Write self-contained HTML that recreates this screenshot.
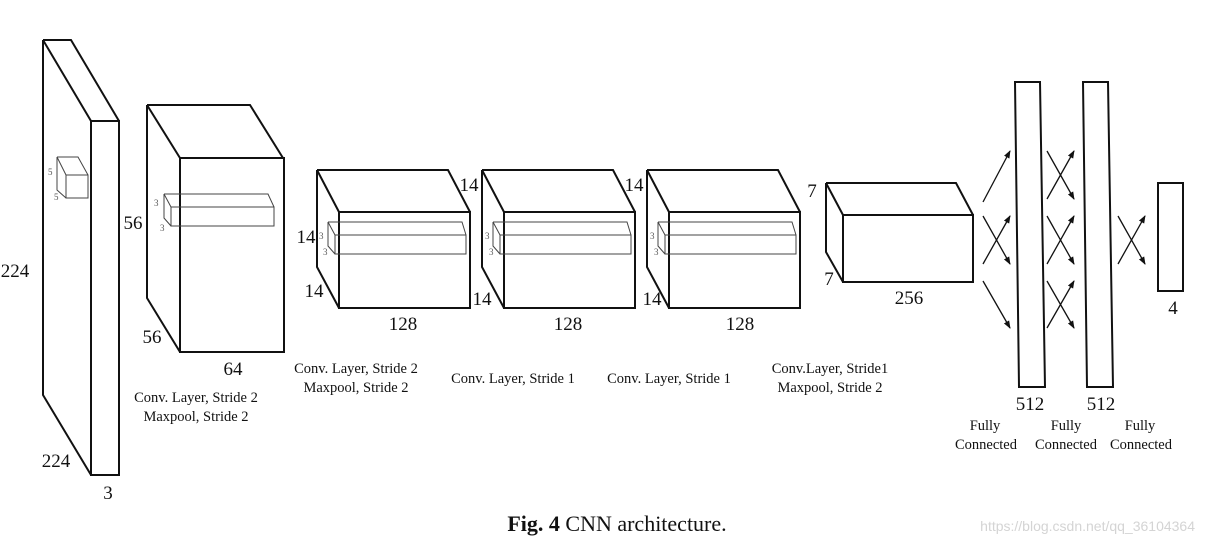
<!DOCTYPE html>
<html><head><meta charset="utf-8"><style>
html,body{margin:0;padding:0;background:#fff;}
svg{display:block;}
text{font-family:"Liberation Serif",serif;fill:#111;}
</style></head><body>
<svg width="1205" height="545" viewBox="0 0 1205 545" xmlns="http://www.w3.org/2000/svg">
<defs><marker id="ah" markerWidth="8" markerHeight="8" refX="7" refY="4" orient="auto" markerUnits="userSpaceOnUse"><path d="M0,1 L8,4 L0,7 Z" fill="#111"/></marker></defs>
<g fill="none" stroke="#111" stroke-width="2">
<path d="M43,40 L71,40 L119,121 M43,40 L91,121 M43,40 L43,395 L91,475"/>
<rect x="91" y="121" width="28" height="354"/>
<path d="M147,105 L250,105 L283,158 M147,105 L180,158 M147,105 L147,298 L180,352"/>
<rect x="180" y="158" width="104" height="194"/>
<path d="M317,170 L448,170 L470,212 M317,170 L339,212 M317,170 L317,267 L339,308"/>
<rect x="339" y="212" width="131" height="96"/>
<path d="M482,170 L613,170 L635,212 M482,170 L504,212 M482,170 L482,267 L504,308"/>
<rect x="504" y="212" width="131" height="96"/>
<path d="M647,170 L778,170 L800,212 M647,170 L669,212 M647,170 L647,267 L669,308"/>
<rect x="669" y="212" width="131" height="96"/>
<path d="M826,183 L956,183 L973,215 M826,183 L843,215 M826,183 L826,252 L843,282"/>
<rect x="843" y="215" width="130" height="67"/>
<path d="M1015,82 L1040,82 L1045,387 L1019,387 Z"/>
<path d="M1083,82 L1108,82 L1113,387 L1087,387 Z"/>
<rect x="1158" y="183" width="25" height="108"/>
</g>
<g fill="none" stroke="#444" stroke-width="1">
<path d="M57,157 L78,157 L88,175 M57,157 L66,175 M57,157 L57,190 L66,198"/>
<rect x="66" y="175" width="22" height="23"/>
<path d="M164,194 L268,194 L274,207 M164,194 L171,207 M164,194 L164,218 L171,226"/>
<rect x="171" y="207" width="103" height="19"/>
<path d="M328,222 L462,222 L466,235 M328,222 L335,235 M328,222 L328,246 L335,254"/>
<rect x="335" y="235" width="131" height="19"/>
<path d="M493,222 L627,222 L631,235 M493,222 L500,235 M493,222 L493,246 L500,254"/>
<rect x="500" y="235" width="131" height="19"/>
<path d="M658,222 L792,222 L796,235 M658,222 L665,235 M658,222 L658,246 L665,254"/>
<rect x="665" y="235" width="131" height="19"/>
</g>
<g stroke="#111" stroke-width="1.3" marker-end="url(#ah)">
<line x1="983" y1="202" x2="1010" y2="151"/>
<line x1="983" y1="216" x2="1010" y2="264"/>
<line x1="983" y1="264" x2="1010" y2="216"/>
<line x1="983" y1="281" x2="1010" y2="328"/>
<line x1="1047" y1="199" x2="1074" y2="151"/>
<line x1="1047" y1="151" x2="1074" y2="199"/>
<line x1="1047" y1="264" x2="1074" y2="216"/>
<line x1="1047" y1="216" x2="1074" y2="264"/>
<line x1="1047" y1="328" x2="1074" y2="281"/>
<line x1="1047" y1="281" x2="1074" y2="328"/>
<line x1="1118" y1="264" x2="1145" y2="216"/>
<line x1="1118" y1="216" x2="1145" y2="264"/>
</g>
<g font-size="9">
<text x="48" y="175" style="fill:#555">5</text><text x="54" y="200" style="fill:#555">5</text>
<text x="154" y="206" style="fill:#555">3</text><text x="160" y="231" style="fill:#555">3</text>
<text x="319" y="239" style="fill:#555">3</text><text x="323" y="255" style="fill:#555">3</text>
<text x="485" y="239" style="fill:#555">3</text><text x="489" y="255" style="fill:#555">3</text>
<text x="650" y="239" style="fill:#555">3</text><text x="654" y="255" style="fill:#555">3</text>
</g>
<g font-size="19" text-anchor="middle">
<text x="15" y="277">224</text><text x="56" y="467">224</text><text x="108" y="499">3</text>
<text x="133" y="229">56</text><text x="152" y="343">56</text><text x="233" y="375">64</text>
<text x="306" y="243">14</text><text x="314" y="297">14</text><text x="403" y="330">128</text>
<text x="469" y="191">14</text><text x="482" y="305">14</text><text x="568" y="330">128</text>
<text x="634" y="191">14</text><text x="652" y="305">14</text><text x="740" y="330">128</text>
<text x="812" y="197">7</text><text x="829" y="285">7</text><text x="909" y="304">256</text>
<text x="1030" y="410">512</text><text x="1101" y="410">512</text><text x="1173" y="314">4</text>
</g>
<g font-size="14.5" text-anchor="middle">
<text x="196" y="402">Conv. Layer, Stride 2</text><text x="196" y="421">Maxpool, Stride 2</text>
<text x="356" y="373">Conv. Layer, Stride 2</text><text x="356" y="392">Maxpool, Stride 2</text>
<text x="513" y="383">Conv. Layer, Stride 1</text>
<text x="669" y="383">Conv. Layer, Stride 1</text>
<text x="830" y="373">Conv.Layer, Stride1</text><text x="830" y="392">Maxpool, Stride 2</text>
<text x="985" y="430">Fully</text><text x="986" y="449">Connected</text>
<text x="1066" y="430">Fully</text><text x="1066" y="449">Connected</text>
<text x="1140" y="430">Fully</text><text x="1141" y="449">Connected</text>
</g>
<text x="617" y="531" font-size="22" text-anchor="middle"><tspan font-weight="bold">Fig. 4</tspan> CNN architecture.</text>
<text x="1195" y="531" font-size="14" text-anchor="end" style="font-family:'Liberation Sans',sans-serif;fill:#d4d4d4">https://blog.csdn.net/qq_36104364</text>
</svg>
</body></html>
